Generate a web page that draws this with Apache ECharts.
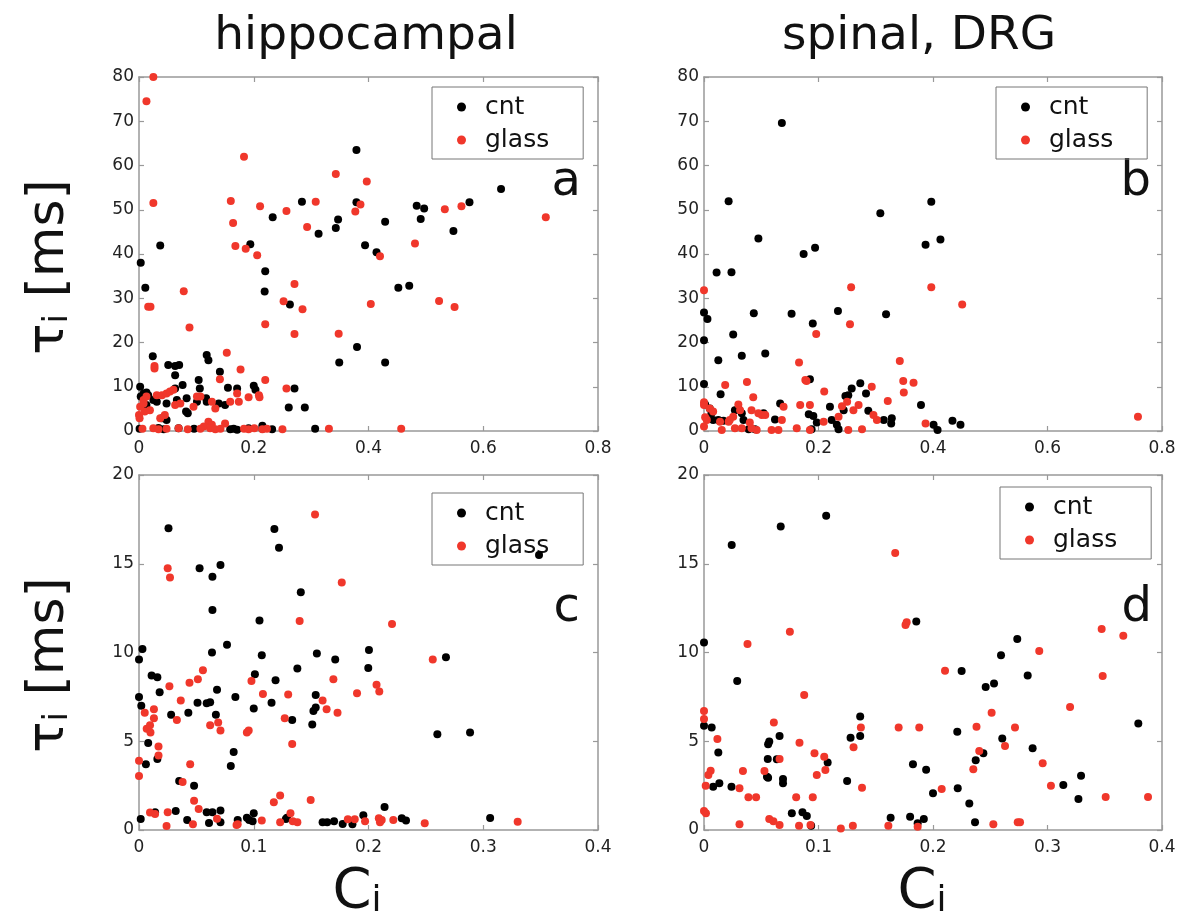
<!DOCTYPE html>
<html><head><meta charset="utf-8">
<script src="https://cdn.jsdelivr.net/npm/echarts@6.0.0/dist/echarts.min.js"></script>
<style>html,body{margin:0;padding:0;background:#fff}#c{width:1182px;height:918px}</style>
</head><body><div id="c"></div><script>
// ---- data: [C_i, tau_i (ms)] ----
const hippoCnt = [
[0.003,38.0],[0.011,32.4],[0.024,16.9],[0.037,41.9],[0.194,42.2],[0.220,36.1],[0.219,31.5],[0.233,48.3],[0.263,28.6],[0.284,51.8],[0.313,44.6],[0.343,45.9],[0.347,47.8],[0.379,63.5],[0.379,51.7],[0.380,19.0],[0.349,15.5],[0.261,5.3],[0.271,9.6],[0.289,5.3],[0.307,0.5],
[0.394,42.0],[0.414,40.4],[0.429,47.3],[0.484,50.9],[0.497,50.3],[0.491,47.9],[0.548,45.2],[0.576,51.7],[0.631,54.7],[0.452,32.4],[0.471,32.8],[0.429,15.5],
[0.002,10.0],[0.003,7.8],[0.008,8.5],[0.013,8.7],[0.016,8.1],[0.051,14.9],[0.063,14.7],[0.070,14.9],[0.063,12.6],[0.063,9.6],[0.076,10.4],[0.104,11.5],[0.106,9.6],[0.118,17.2],[0.121,16.0],[0.141,13.4],[0.139,6.2],[0.155,9.8],[0.171,9.6],[0.200,10.2],[0.203,9.3],[0.082,4.4],[0.085,4.0],[0.040,2.9],[0.048,2.5],[0.048,6.2],[0.031,6.6],[0.083,7.4],[0.150,5.9],[0.117,7.4],[0.118,6.6],[0.013,5.9],[0.025,7.0],[0.066,7.0],[0.101,6.6],
[0.001,0.5],[0.034,0.7],[0.043,0.4],[0.069,0.6],[0.096,0.5],[0.159,0.4],[0.165,0.5],[0.171,0.3],[0.191,0.6],[0.215,0.5],[0.232,0.4],[0.215,1.2]
];
const hippoGlass = [
[0.025,80.0],[0.013,74.5],[0.025,51.5],[0.016,28.1],[0.020,28.1],[0.078,31.6],[0.088,23.4],[0.027,14.7],[0.027,14.1],[0.183,62.0],[0.160,52.0],[0.164,47.0],[0.168,41.8],[0.186,41.2],[0.206,39.7],[0.211,50.8],[0.257,49.7],[0.252,29.3],[0.271,33.2],[0.271,21.9],[0.285,27.5],[0.293,46.1],[0.308,51.8],[0.343,58.1],[0.348,22.0],[0.377,49.6],[0.220,24.1],[0.220,11.5],[0.153,17.7],[0.141,11.7],[0.177,13.9],[0.257,9.6],
[0.397,56.4],[0.386,51.2],[0.420,39.5],[0.481,42.4],[0.404,28.7],[0.523,29.4],[0.550,28.0],[0.533,50.1],[0.562,50.8],[0.709,48.3],[0.457,0.5],
[0.008,7.0],[0.013,7.8],[0.031,8.1],[0.040,8.1],[0.048,8.5],[0.054,8.9],[0.060,9.3],[0.000,3.6],[0.001,2.9],[0.010,4.4],[0.019,4.7],[0.037,2.9],[0.045,3.6],[0.072,6.2],[0.063,5.9],[0.095,5.5],[0.101,7.8],[0.107,7.8],[0.127,6.6],[0.133,5.1],[0.159,6.6],[0.171,8.5],[0.174,6.6],[0.191,7.6],[0.209,8.1],[0.210,7.6],[0.150,1.7],[0.121,2.1],[0.127,1.4],[0.113,1.0],[0.002,5.5],[0.008,6.2],
[0.006,0.5],[0.025,0.6],[0.034,0.4],[0.048,0.5],[0.069,0.6],[0.085,0.4],[0.107,0.5],[0.124,0.6],[0.133,0.4],[0.142,0.5],[0.183,0.5],[0.191,0.4],[0.201,0.6],[0.215,0.4],[0.223,0.5],[0.250,0.4],[0.331,0.5]
];
const spinalCnt = [
[0.136,69.6],[0.043,51.9],[0.095,43.5],[0.022,35.8],[0.048,35.9],[0.000,26.8],[0.006,25.3],[0.000,20.5],[0.051,21.8],[0.025,16.0],[0.066,17.0],[0.087,26.6],[0.107,17.5],[0.153,26.5],[0.174,40.0],[0.194,41.4],[0.190,24.3],[0.308,49.2],[0.234,27.1],[0.318,26.4],[0.387,42.1],[0.397,51.8],[0.413,43.3],[0.000,10.6],[0.029,8.3],[0.185,11.7],
[0.002,6.0],[0.010,5.1],[0.013,4.0],[0.016,2.5],[0.025,2.5],[0.034,2.3],[0.054,4.7],[0.060,5.1],[0.066,4.0],[0.069,2.5],[0.078,0.4],[0.089,0.4],[0.104,4.0],[0.124,2.6],[0.133,6.2],[0.183,3.8],[0.188,0.4],[0.191,3.4],[0.197,1.9],[0.220,5.5],[0.223,2.5],[0.232,1.4],[0.235,0.4],[0.244,4.7],[0.247,7.9],[0.252,8.1],[0.258,9.6],[0.273,10.8],[0.283,8.5],[0.287,4.6],[0.314,2.5],[0.327,1.7],[0.328,2.9],[0.379,5.9],[0.401,1.4],[0.408,0.2],[0.434,2.3],[0.448,1.4]
];
const spinalGlass = [
[0.000,31.8],[0.257,32.5],[0.255,24.1],[0.196,21.9],[0.166,15.5],[0.177,11.5],[0.179,11.3],[0.342,15.8],[0.348,11.3],[0.366,10.9],[0.349,8.7],[0.397,32.5],[0.293,10.0],[0.321,6.8],[0.210,8.9],[0.075,11.1],[0.037,10.4],[0.086,7.6],[0.758,3.2],[0.451,28.6],
[0.000,6.5],[0.000,5.9],[0.002,3.1],[0.005,2.5],[0.000,1.0],[0.010,5.1],[0.016,4.4],[0.028,2.1],[0.031,0.2],[0.043,2.1],[0.045,2.5],[0.051,3.2],[0.060,6.0],[0.063,4.7],[0.054,0.6],[0.066,0.6],[0.080,1.9],[0.083,4.7],[0.083,0.6],[0.092,0.2],[0.095,4.0],[0.101,3.6],[0.107,3.6],[0.118,0.2],[0.130,0.2],[0.136,2.5],[0.139,5.5],[0.162,0.6],[0.168,5.9],[0.185,5.9],[0.185,0.2],[0.209,2.1],[0.235,3.2],[0.241,5.6],[0.250,6.6],[0.252,0.2],[0.261,4.7],[0.270,5.9],[0.276,0.4],[0.296,3.6],[0.302,2.5],[0.387,1.7]
];
const hippoCntZoom = [
[0.0257,17.0],[0.0528,14.74],[0.064,14.27],[0.071,14.93],[0.064,12.39],[0.0636,10.0],[0.0767,10.44],[0.118,16.96],[0.122,15.9],[0.141,13.4],[0.105,11.8],[0.107,9.84],[0.155,9.95],[0.171,9.6],[0.138,9.1],[0.101,8.77],[0.119,8.43],[0.154,7.6],[0.154,6.9],[0.152,6.7],[0.151,5.95],[0.1335,6.2],[0.1155,7.17],[0.100,6.85],[0.084,7.5],[0.068,7.9],[0.067,6.5],[0.051,7.17],[0.059,7.14],[0.062,7.2],[0.043,6.6],[0.028,6.5],[0.0,9.6],[0.003,10.2],[0.011,8.7],[0.016,8.6],[0.018,7.76],[0.0,7.5],[0.002,7.0],[0.008,4.9],[0.006,3.7],[0.016,4.0],[0.0825,4.4],[0.080,3.6],[0.035,2.76],[0.048,2.5],
[0.0015,0.62],[0.014,1.0],[0.032,1.07],[0.042,0.56],[0.061,0.4],[0.059,1.0],[0.064,1.0],[0.071,1.1],[0.071,0.43],[0.086,0.56],[0.094,0.69],[0.096,0.56],[0.099,0.5],[0.1,0.94],[0.128,0.62],[0.129,0.69],[0.16,0.43],[0.164,0.43],[0.17,0.5],[0.186,0.32],
[0.3486,15.5],[0.2675,9.73],[0.26,5.39],[0.2885,5.5],[0.2004,10.14],[0.1998,9.13],[0.214,1.3],[0.1955,0.83],[0.1775,0.34],[0.229,0.66],[0.2327,0.53],[0.306,0.68]
];
const hippoGlassZoom = [
[0.1534,17.78],[0.025,14.74],[0.027,14.23],[0.1767,13.95],[0.140,11.77],[0.0557,9.0],[0.0513,8.5],[0.0265,8.1],[0.044,8.3],[0.0364,7.3],[0.033,6.2],[0.005,6.6],[0.013,6.8],[0.013,6.3],[0.0067,5.7],[0.0096,5.9],[0.010,5.5],[0.017,4.7],[0.017,4.2],[0.0,3.9],[0.0,3.04],[0.0446,3.7],[0.038,2.7],[0.098,8.4],[0.108,7.66],[0.0956,5.6],[0.094,5.5],[0.069,6.05],[0.062,5.9],[0.071,5.6],[0.13,7.64],[0.127,6.3],[0.1335,4.85],[0.16,7.3],[0.1635,6.8],[0.1694,8.5],[0.173,6.6],[0.19,7.7],
[0.2205,11.6],[0.256,9.6],[0.207,8.19],[0.2094,7.8],
[0.0096,0.98],[0.014,0.9],[0.025,1.0],[0.024,0.23],[0.048,1.65],[0.052,1.18],[0.047,0.32],[0.068,0.64],[0.085,0.28],[0.086,0.33],[0.107,0.53],[0.1175,1.56],[0.123,1.95],[0.123,0.43],[0.132,0.94],[0.134,0.5],[0.138,0.43],[0.1496,1.69],
[0.182,0.6],[0.188,0.6],[0.197,0.5],[0.209,0.66],[0.21,0.43],[0.2115,0.56],[0.2216,0.56],[0.249,0.38],[0.33,0.47]
];
const spinalCntZoom = [
[0.0242,16.06],[0.067,17.1],[0.1067,17.7],[0.1854,11.74],[0.0,10.57],[0.029,8.4],[0.0,5.88],[0.0067,5.78],[0.0125,4.36],[0.008,2.44],[0.0134,2.63],[0.024,2.44],[0.056,4.83],[0.057,4.98],[0.066,5.3],[0.0557,4.0],[0.0636,3.98],[0.055,3.0],[0.056,2.95],[0.069,2.87],[0.069,2.63],[0.1364,6.4],[0.1364,5.3],[0.128,5.2],[0.108,3.8],[0.125,2.76],[0.1825,3.7],[0.194,3.4],[0.2,2.07],[0.0767,0.94],[0.086,1.0],[0.0898,0.79],[0.0936,0.24],[0.163,0.69],[0.180,0.75],[0.1866,0.38],[0.192,0.62],
[0.2736,10.76],[0.2594,9.84],[0.225,8.96],[0.246,8.06],[0.2533,8.26],[0.2827,8.7],[0.3793,6.0],[0.2212,5.54],[0.2605,5.16],[0.287,4.6],[0.244,4.32],[0.2373,3.93],[0.2216,2.35],[0.2317,1.5],[0.2367,0.43],[0.3138,2.54],[0.3293,3.06],[0.327,1.75]
];
const spinalGlassZoom = [
[0.167,15.6],[0.176,11.55],[0.177,11.7],[0.075,11.17],[0.038,10.48],[0.0875,7.6],[0.0,6.7],[0.0,6.25],[0.061,6.05],[0.17,5.78],[0.188,5.78],[0.137,5.78],[0.0117,5.13],[0.0834,4.92],[0.1306,4.66],[0.0965,4.32],[0.105,4.13],[0.066,4.0],[0.0528,3.32],[0.034,3.32],[0.0058,3.34],[0.0038,3.1],[0.106,3.38],[0.0985,3.1],[0.0015,2.5],[0.031,2.35],[0.0388,1.84],[0.0455,1.84],[0.0805,1.84],[0.095,1.84],[0.138,2.38],[0.0,1.07],[0.0017,0.94],[0.031,0.32],[0.057,0.62],[0.0606,0.5],[0.066,0.28],[0.083,0.24],[0.093,0.28],[0.1195,0.09],[0.13,0.24],[0.161,0.24],[0.1866,0.19],[0.2076,2.31],
[0.2105,8.97],[0.3473,11.32],[0.3662,10.95],[0.2928,10.08],[0.3482,8.68],[0.3197,6.93],[0.2512,6.6],[0.238,5.82],[0.2716,5.78],[0.2629,4.73],[0.2404,4.45],[0.2352,3.42],[0.2958,3.76],[0.303,2.5],[0.3508,1.86],[0.3878,1.86],[0.2527,0.32],[0.274,0.43],[0.276,0.43]
];
const seriesNames = ['cnt','glass'];
const columnTitles = ['hippocampal','spinal, DRG'];
const panelLetters = ['a','b','c','d'];
const xRanges = [[0,0.8,0.2],[0,0.8,0.2],[0,0.4,0.1],[0,0.4,0.1]];
const yRanges = [[0,80,10],[0,80,10],[0,20,5],[0,20,5]];
const panelData = [[hippoCnt,hippoGlass],[spinalCnt,spinalGlass],[hippoCntZoom,hippoGlassZoom],[spinalCntZoom,spinalGlassZoom]];

// ---- layout / style ----
const FONT = 'DejaVu Sans';
const AX = '#999999';
const RED = '#f0372b';
const grids = [
  {left:139, top:77, width:459, height:354},
  {left:704, top:77, width:458, height:354},
  {left:139, top:475, width:459, height:355},
  {left:704, top:475, width:458, height:355}
];
const legendPos = [
  {left:432, top:87}, {left:996, top:87}, {left:432, top:493}, {left:1000, top:487}
];
const letterPos = [[581,183],[1151,183],[580,609],[1152,609]];

function axis(kind, gi, r, mirror){
  const pos = kind==='x' ? (mirror?'top':'bottom') : (mirror?'right':'left');
  return {
    type:'value', gridIndex:gi, position:pos, min:r[0], max:r[1], interval:r[2],
    axisLine:{show:true, onZero:false, lineStyle:{color:AX, width:1.5}},
    axisTick:{show:true, inside:true, length:5, lineStyle:{color:AX, width:1.2}},
    splitLine:{show:false},
    axisLabel:{show:!mirror, fontFamily:FONT, fontSize:17, color:'#222',
      margin: kind==='x'?9:5, showMinLabel:true, showMaxLabel:true}
  };
}
const xAxis=[], yAxis=[], series=[], legend=[];
grids.forEach((g,i)=>{
  xAxis.push(axis('x',i,xRanges[i],false)); xAxis.push(axis('x',i,xRanges[i],true));
  yAxis.push(axis('y',i,yRanges[i],false)); yAxis.push(axis('y',i,yRanges[i],true));
  panelData[i].forEach((d,k)=>{
    series.push({type:'scatter', name:seriesNames[k], xAxisIndex:2*i, yAxisIndex:2*i,
      data:d, symbol:'circle', symbolSize:8, clip:false, z:5,
      itemStyle:{color:k===0?'#000':RED, opacity:1}});
  });
  legend.push({data:seriesNames, orient:'vertical', left:legendPos[i].left, top:legendPos[i].top,
    selectedMode:false, icon:'circle', itemWidth:9, itemHeight:9, itemGap:7, z:2,
    padding:[7,34,6,25], borderColor:'#777', borderWidth:1, backgroundColor:'transparent',
    textStyle:{fontFamily:FONT, fontSize:25, color:'#111', lineHeight:26, padding:[0,0,0,14]}});
});

const graphic = [];
columnTitles.forEach((t,i)=>{
  graphic.push({type:'text', x:[366,919][i], y:37, style:{text:t, font:'47px "DejaVu Sans"', fill:'#111', align:'center', verticalAlign:'middle'}});
});
panelLetters.forEach((t,i)=>{
  graphic.push({type:'text', x:letterPos[i][0], y:letterPos[i][1], style:{text:t, font:'48px "DejaVu Sans"', fill:'#111', align:'right', verticalAlign:'middle'}});
});
[267,665].forEach(cy=>{
  graphic.push({type:'text', x:49, y:cy, rotation:Math.PI/2, style:{
    text:'{t|τ}{s|i}{t| [ms]}', align:'center', verticalAlign:'middle', fill:'#111',
    rich:{t:{fontFamily:FONT, fontSize:52, fill:'#111'}, s:{fontFamily:FONT, fontSize:34, fill:'#111', verticalAlign:'bottom'}}}});
});
[357,922].forEach(cx=>{
  graphic.push({type:'text', x:cx, y:892, style:{
    text:'{t|C}{s|i}', align:'center', verticalAlign:'middle', fill:'#111',
    rich:{t:{fontFamily:FONT, fontSize:56, fill:'#111'}, s:{fontFamily:FONT, fontSize:36, fill:'#111', verticalAlign:'bottom'}}}});
});

const chart = echarts.init(document.getElementById('c'), null, {renderer:'canvas'});
chart.setOption({animation:false, backgroundColor:'#fff', grid:grids, xAxis, yAxis, series, legend, graphic});
</script></body></html>
